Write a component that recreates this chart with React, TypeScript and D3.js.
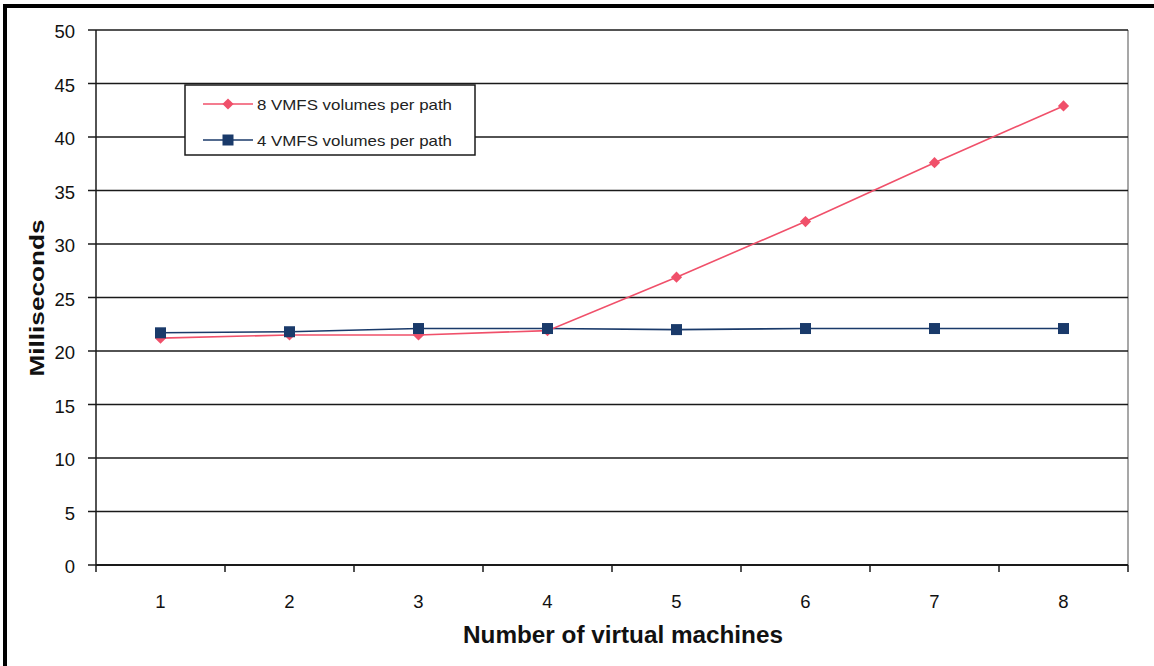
import { useEffect, useRef } from 'react';
import * as d3 from 'd3';

const vmCounts = ['1', '2', '3', '4', '5', '6', '7', '8'];
const eightVolumes = [21.2, 21.5, 21.5, 21.9, 26.9, 32.1, 37.6, 42.9];
const fourVolumes = [21.7, 21.8, 22.1, 22.1, 22.0, 22.1, 22.1, 22.1];
const yTicks = [0, 5, 10, 15, 20, 25, 30, 35, 40, 45, 50];
const seriesNames = ['8 VMFS volumes per path', '4 VMFS volumes per path'];

const App = () => {
  const chartRef = useRef<SVGSVGElement | null>(null);

  useEffect(() => {
    document.body.style.margin = '0';
    if (!chartRef.current) return;
    const svg = d3.select(chartRef.current);
    svg.selectAll('*').remove();

    const left = 96, right = 1128, top = 30, bottom = 565;
    const font = 'Liberation Sans, Arial, sans-serif';

    const x = d3.scaleBand<string>().domain(vmCounts).range([left, right]);
    const y = d3.scaleLinear().domain([0, 50]).range([bottom, top]);

    svg.append('rect').attr('width', 1154).attr('height', 666).attr('fill', '#fff');

    // outer frame (top + left)
    svg.append('rect').attr('x', 3).attr('y', 4).attr('width', 1160).attr('height', 4).attr('fill', '#000');
    svg.append('rect').attr('x', 3).attr('y', 4).attr('width', 4).attr('height', 670).attr('fill', '#000');

    // plot area right border
    svg.append('line')
      .attr('x1', right).attr('x2', right).attr('y1', top).attr('y2', bottom)
      .attr('stroke', '#8a8a8a').attr('stroke-width', 1.5);

    // gridlines
    svg.append('g').selectAll('line')
      .data(yTicks.filter(d => d > 0))
      .enter().append('line')
      .attr('x1', left - 8).attr('x2', right)
      .attr('y1', d => y(d)).attr('y2', d => y(d))
      .attr('stroke', '#1a1a1a').attr('stroke-width', 1.5);

    // y axis
    svg.append('line')
      .attr('x1', left).attr('x2', left).attr('y1', top).attr('y2', bottom)
      .attr('stroke', '#1a1a1a').attr('stroke-width', 1.5);
    svg.append('line')
      .attr('x1', left - 8).attr('x2', left).attr('y1', bottom).attr('y2', bottom)
      .attr('stroke', '#1a1a1a').attr('stroke-width', 1.5);
    svg.append('g').selectAll('text')
      .data(yTicks)
      .enter().append('text')
      .attr('x', left - 21).attr('y', d => y(d))
      .attr('dy', '0.45em')
      .attr('text-anchor', 'end')
      .attr('font-family', font)
      .attr('font-size', 18.5)
      .attr('fill', '#111')
      .text(d => d);

    // x axis
    svg.append('line')
      .attr('x1', left).attr('x2', right).attr('y1', bottom).attr('y2', bottom)
      .attr('stroke', '#1a1a1a').attr('stroke-width', 2);
    const boundaries = vmCounts.map(c => x(c)!).concat([right]);
    svg.append('g').selectAll('line')
      .data(boundaries)
      .enter().append('line')
      .attr('x1', d => d).attr('x2', d => d).attr('y1', bottom).attr('y2', bottom + 7)
      .attr('stroke', '#1a1a1a').attr('stroke-width', 1.5);
    svg.append('g').selectAll('text')
      .data(vmCounts)
      .enter().append('text')
      .attr('x', d => x(d)! + x.bandwidth() / 2)
      .attr('y', 608)
      .attr('text-anchor', 'middle')
      .attr('font-family', font)
      .attr('font-size', 18.5)
      .attr('fill', '#111')
      .text(d => d);

    // axis titles
    svg.append('text')
      .attr('x', 623).attr('y', 643)
      .attr('text-anchor', 'middle')
      .attr('font-family', font)
      .attr('font-size', 23).attr('font-weight', 'bold')
      .attr('textLength', 320).attr('lengthAdjust', 'spacingAndGlyphs')
      .attr('fill', '#111')
      .text('Number of virtual machines');
    svg.append('text')
      .attr('transform', `translate(44,298) rotate(-90)`)
      .attr('text-anchor', 'middle')
      .attr('font-family', font)
      .attr('font-size', 21).attr('font-weight', 'bold')
      .attr('textLength', 157).attr('lengthAdjust', 'spacingAndGlyphs')
      .attr('fill', '#111')
      .text('Milliseconds');

    const cx = (d: string) => x(d)! + x.bandwidth() / 2;
    const line = d3.line<number>()
      .x((_, i) => cx(vmCounts[i]))
      .y(d => y(d));

    const red = '#f0506a';
    const blue = '#1a3a6a';

    // 4 volumes series
    svg.append('path')
      .datum(fourVolumes)
      .attr('d', line)
      .attr('fill', 'none').attr('stroke', blue).attr('stroke-width', 1.6);
    // 8 volumes series
    svg.append('path')
      .datum(eightVolumes)
      .attr('d', line)
      .attr('fill', 'none').attr('stroke', red).attr('stroke-width', 1.6);

    const diamond = d3.symbol().type(d3.symbolDiamond2).size(80);
    svg.append('g').selectAll('path')
      .data(eightVolumes)
      .enter().append('path')
      .attr('d', diamond)
      .attr('transform', (d, i) => `translate(${cx(vmCounts[i])},${y(d)})`)
      .attr('fill', red);

    svg.append('g').selectAll('rect')
      .data(fourVolumes)
      .enter().append('rect')
      .attr('x', (_, i) => cx(vmCounts[i]) - 5.5)
      .attr('y', d => y(d) - 5.5)
      .attr('width', 11).attr('height', 11)
      .attr('fill', blue);

    // legend
    const legend = svg.append('g');
    legend.append('rect')
      .attr('x', 185).attr('y', 85).attr('width', 290).attr('height', 70)
      .attr('fill', '#fff').attr('stroke', '#1a1a1a').attr('stroke-width', 1.5);
    [red, blue].forEach((color, i) => {
      const ly = 104 + i * 36;
      legend.append('line')
        .attr('x1', 203).attr('x2', 253).attr('y1', ly).attr('y2', ly)
        .attr('stroke', color).attr('stroke-width', 1.6);
      if (i === 0) {
        legend.append('path').attr('d', diamond).attr('transform', `translate(228,${ly})`).attr('fill', color);
      } else {
        legend.append('rect').attr('x', 222.5).attr('y', ly - 5.5).attr('width', 11).attr('height', 11).attr('fill', color);
      }
      legend.append('text')
        .attr('x', 257).attr('y', ly).attr('dy', '0.38em')
        .attr('font-family', font)
        .attr('font-size', 15)
        .attr('textLength', 195).attr('lengthAdjust', 'spacingAndGlyphs')
        .attr('fill', '#222')
        .text(seriesNames[i]);
    });
  }, []);

  return <svg ref={chartRef} width={1154} height={666} style={{ display: 'block' }}></svg>;
};

export default App;
